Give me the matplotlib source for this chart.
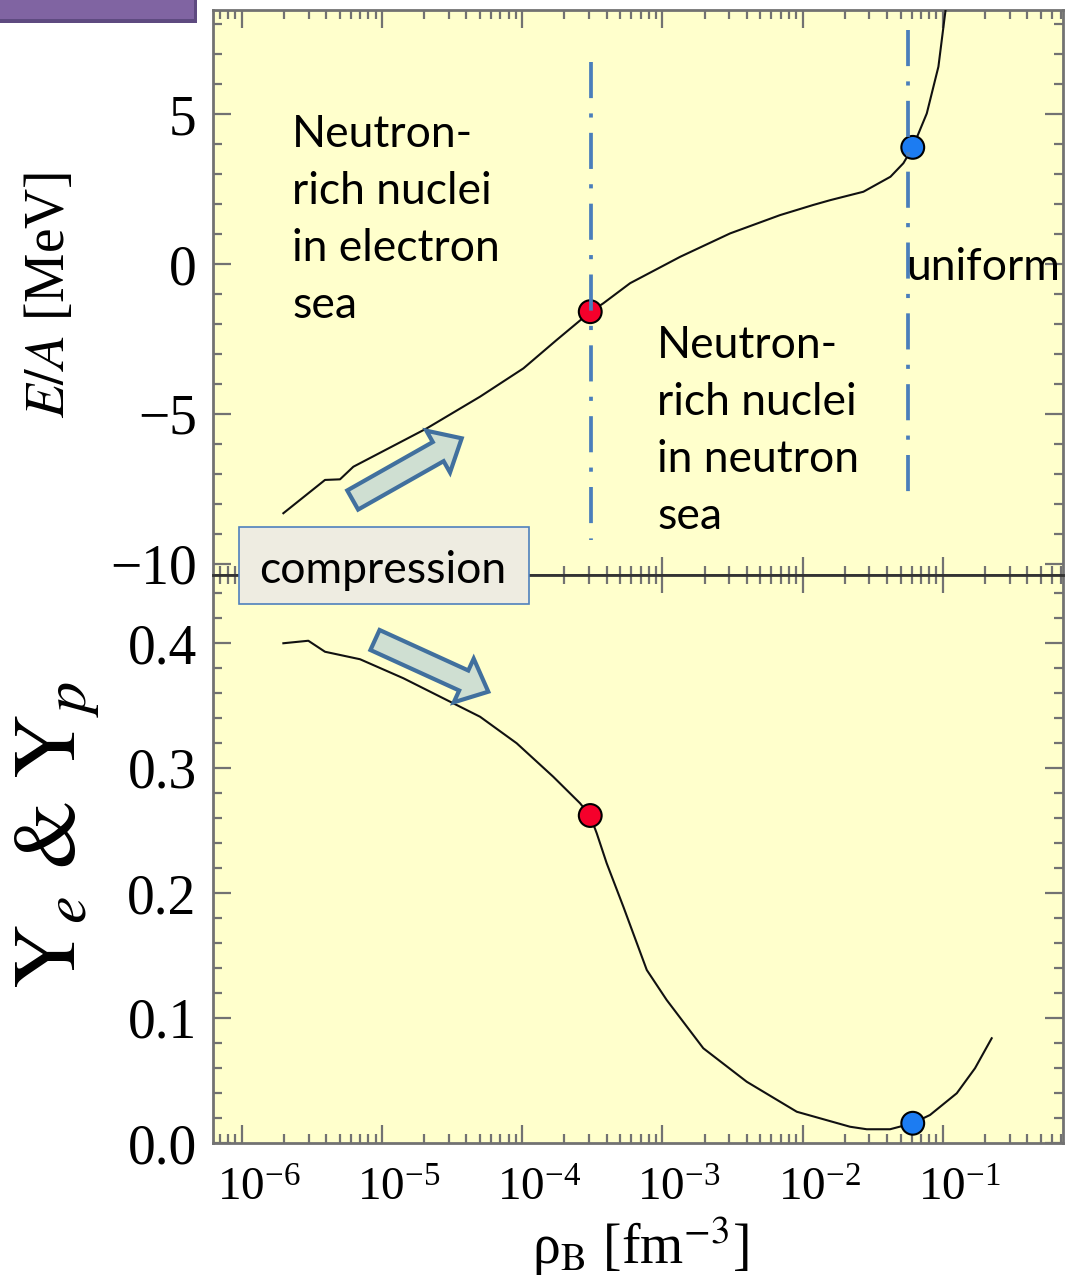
import numpy as np
import matplotlib
matplotlib.use('Agg')
import matplotlib.pyplot as plt
import matplotlib.patches as mpatches
import matplotlib.transforms as mtransforms
from matplotlib.ticker import (FixedLocator, LogLocator, MultipleLocator,
                               NullFormatter, FuncFormatter, LogFormatterMathtext)

plt.rcParams['mathtext.fontset'] = 'stix'
plt.rcParams['font.family'] = ['Liberation Serif', 'DejaVu Serif']
plt.rcParams['lines.scale_dashes'] = False

W, H, DPI = 1072, 1279, 100

# ---------------- data ----------------
log_rho_E = [-5.703, -5.406, -5.299, -5.204, -4.680, -4.299, -3.991, -3.753,
             -3.512, -3.421, -3.230, -2.873, -2.517, -2.161, -1.923, -1.802,
             -1.566, -1.373, -1.281, -1.214, -1.114, -1.031, -0.983, -0.965]
E_per_A = [-8.31, -7.20, -7.18, -6.76, -5.48, -4.42, -3.48, -2.53,
           -1.59, -1.31, -0.64, 0.24, 1.02, 1.63, 1.97, 2.13,
           2.41, 2.91, 3.36, 3.89, 5.02, 6.58, 8.36, 9.00]

log_rho_Y = [-5.703, -5.525, -5.406, -5.156, -4.847, -4.467, -4.300, -4.039,
             -3.778, -3.587, -3.516, -3.468, -3.397, -3.278, -3.111, -2.969,
             -2.708, -2.398, -2.041, -1.661, -1.542, -1.376, -1.214, -1.091,
             -0.900, -0.770, -0.651]
Y_ep = [0.3998, 0.4018, 0.3930, 0.3870, 0.3718, 0.3504, 0.3410, 0.3198,
        0.2930, 0.2718, 0.2620, 0.2478, 0.2238, 0.1890, 0.1384, 0.1144,
        0.0758, 0.0490, 0.0250, 0.0130, 0.0110, 0.0110, 0.0158, 0.0224,
        0.0398, 0.0598, 0.0838]

# transition points (red: neutron drip, blue: core-crust boundary)
rho_marks = [3.06e-4, 0.0611]
E_marks = [-1.59, 3.89]
Y_marks = [0.262, 0.0158]
mark_colors = ['#f5002b', '#1c7cf2']

# vertical dash-dot guide lines
rho_vlines = [3.08e-4, 0.0569]
vline_ymin = [-9.2, -8.03]
vline_ymax = [6.73, 7.80]

x_major = [1e-6, 1e-5, 1e-4, 1e-3, 1e-2, 1e-1]
xlim = (6.27e-7, 0.724)
ylim_top = (-10.37, 8.47)
ylim_bot = (0.0, 0.4544)

rho_E = 10 ** np.array(log_rho_E)
rho_Y = 10 ** np.array(log_rho_Y)

# ---------------- figure ----------------
fig = plt.figure(figsize=(W / DPI, H / DPI), dpi=DPI)
fig.patch.set_facecolor('white')

L, R = 213.3, 1063.3
axT = fig.add_axes([L / W, 1 - 575 / H, (R - L) / W, 565 / H])
axB = fig.add_axes([L / W, 1 - 1143 / H, (R - L) / W, 568 / H], sharex=axT)

bg = '#ffffcc'
frame = '#727272'
for ax in (axT, axB):
    ax.set_facecolor(bg)
    ax.set_xscale('log')
    for s in ax.spines.values():
        s.set_color(frame)
        s.set_linewidth(2.0)
    ax.tick_params(which='both', direction='in', top=True, right=True,
                   color=frame)
    ax.tick_params(axis='y', labelsize=40, pad=12)
    ax.tick_params(axis='x', labelsize=34, pad=18)
    ax.tick_params(which='major', length=13, width=1.6)
    ax.tick_params(which='minor', length=6.5, width=1.6)
    ax.xaxis.set_major_locator(FixedLocator(x_major))
    ax.xaxis.set_minor_locator(LogLocator(base=10, subs=np.arange(2, 10), numticks=30))
    ax.xaxis.set_minor_formatter(NullFormatter())

axT.spines['bottom'].set_color('#333333')
axB.spines['top'].set_color('#333333')

axT.set_xlim(*xlim)
axT.set_ylim(*ylim_top)
axB.set_ylim(*ylim_bot)

axT.tick_params(axis='x', labelbottom=False)
axB.xaxis.set_major_formatter(LogFormatterMathtext())
shift = mtransforms.ScaledTranslation(12 / 72, 0, fig.dpi_scale_trans)
for lab in axB.get_xticklabels():
    lab.set_transform(lab.get_transform() + shift)

axT.yaxis.set_major_locator(MultipleLocator(5))
axT.yaxis.set_minor_locator(MultipleLocator(1))
axT.yaxis.set_major_formatter(FuncFormatter(lambda v, p: f'{v:.0f}'.replace('-', '\u2212')))
axB.yaxis.set_major_locator(FixedLocator([0.0, 0.1, 0.2, 0.3, 0.4]))
axB.yaxis.set_minor_locator(MultipleLocator(0.02))
axB.yaxis.set_major_formatter(FuncFormatter(lambda v, p: f'{v:.1f}'))

# curves
axT.plot(rho_E, E_per_A, color='#111111', lw=1.5, zorder=3)
axB.plot(rho_Y, Y_ep, color='#111111', lw=1.5, zorder=3)

# markers
axT.scatter(rho_marks, E_marks, s=270, c=mark_colors, edgecolors='black',
            linewidths=1.5, zorder=4)
axB.scatter(rho_marks, Y_marks, s=270, c=mark_colors, edgecolors='black',
            linewidths=1.5, zorder=4)

# dash-dot vertical lines (pattern starts at the top)
for xv, y0, y1 in zip(rho_vlines, vline_ymin, vline_ymax):
    axT.plot([xv, xv], [y1, y0], color='#4a7ebb', lw=2.7, zorder=5,
             dashes=(26, 11, 3, 11))

# axis labels
fig.text(50 / W, 1 - 295 / H, r'$\mathit{E/A}$ [MeV]', rotation=90,
         ha='center', va='center', fontsize=40)
fig.text(58 / W, 1 - 835 / H, r'$\mathrm{Y}_{e}$ & $\mathrm{Y}_{p}$',
         rotation=90, ha='center', va='center', fontsize=64,
         family='STIXGeneral')
fig.text(640 / W, 1 - 1246 / H, 'ρ$_{\\mathrm{B}}$ [fm$^{-3}$]',
         ha='center', va='center', fontsize=40)

# ---------------- slide annotations ----------------
ann_font = dict(family=['Lato', 'DejaVu Sans'], fontsize=32, color='black')
block1 = ['Neutron-', 'rich nuclei', 'in electron', 'sea']
block2 = ['Neutron-', 'rich nuclei', 'in neutron', 'sea']
for i, t in enumerate(block1):
    fig.text(292 / W, 1 - (147 + 57 * i) / H, t, ha='left', va='baseline', **ann_font)
for i, t in enumerate(block2):
    fig.text(657 / W, 1 - (358 + 57 * i) / H, t, ha='left', va='baseline', **ann_font)
fig.text(906 / W, 1 - 280 / H, 'uniform', ha='left', va='baseline', **ann_font)

ident = mtransforms.IdentityTransform()
box = mpatches.Rectangle((239, H - 604), 290, 77, transform=ident,
                         facecolor='#eeece1', edgecolor='#4f81bd', lw=1.2)
fig.add_artist(box)
fig.text(383 / W, 1 - 583 / H, 'compression', ha='center', va='baseline', **ann_font)

def block_arrow(x0, y0, x1, y1):
    dx, dy = x1 - x0, -(y1 - y0)
    arr = mpatches.FancyArrow(x0, H - y0, dx, dy, width=22, head_width=48,
                              head_length=27, length_includes_head=True,
                              transform=ident, facecolor='#cfdfd2',
                              edgecolor='#41709e', lw=3.0)
    fig.add_artist(arr)

block_arrow(352.7, 500.0, 461.7, 438.3)
block_arrow(375.0, 640.0, 488.3, 691.7)

# purple slide-title fragment in the corner
fig.add_artist(mpatches.Rectangle((-5, H - 23), 202, 30, transform=ident,
                                  facecolor='#5e4a80', edgecolor='none'))
fig.add_artist(mpatches.Rectangle((-5, H - 19), 199, 26, transform=ident,
                                  facecolor='#8064a2', edgecolor='none'))

fig.savefig('out.png', dpi=DPI)
